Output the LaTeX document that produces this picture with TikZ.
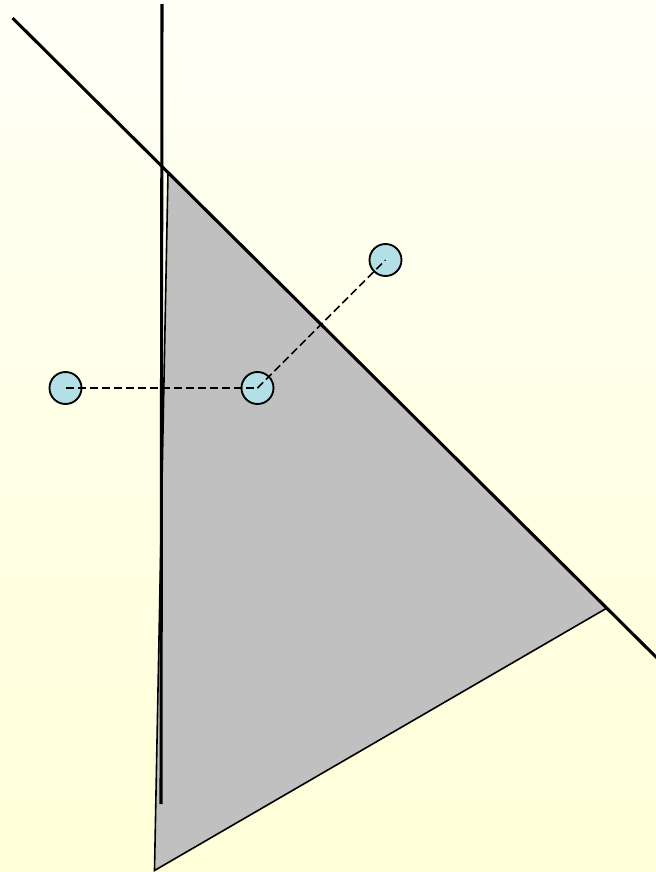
\documentclass[tikz,border=0pt]{standalone}
\begin{document}
\begin{tikzpicture}[x=0.75pt,y=-0.75pt,
  thickline/.style={line width=2.3pt,line cap=butt},
  ball/.style={circle,draw=black,line width=1.4pt,fill={rgb,255:red,178;green,224;blue,230},minimum size=24pt,inner sep=0pt},
  link/.style={line width=1.1pt,dash pattern=on 6pt off 3pt}]
\useasboundingbox (0,0) rectangle (656,872);
\shade[top color={rgb,255:red,255;green,255;blue,246},bottom color={rgb,255:red,255;green,255;blue,216}] (0,0) rectangle (656,872);
% triangle
\coordinate (tA) at (168,173);
\coordinate (tB) at (607,608);
\coordinate (tC) at (154.5,870.5);
\filldraw[fill={rgb,255:red,192;green,192;blue,192},draw=black,line width=1.2pt,line join=miter] (tA) -- (tB) -- (tC) -- cycle;
% lines
\coordinate (d1) at (12.5,18);
\coordinate (d2) at (658,659);
\coordinate (v1) at (162,4);
\coordinate (v2) at (161,804);
\draw[thickline] (d1) -- (d2);
\draw[thickline] (v1) -- (v2);
% balls
\node[ball] (b1) at (65.5,388) {};
\node[ball] (b2) at (257.5,388) {};
\node[ball] (b3) at (385.5,260) {};
\draw[link] (b1.center) -- (b2.center);
\draw[link] (b2.center) -- (b3.center);
\end{tikzpicture}
\end{document}
